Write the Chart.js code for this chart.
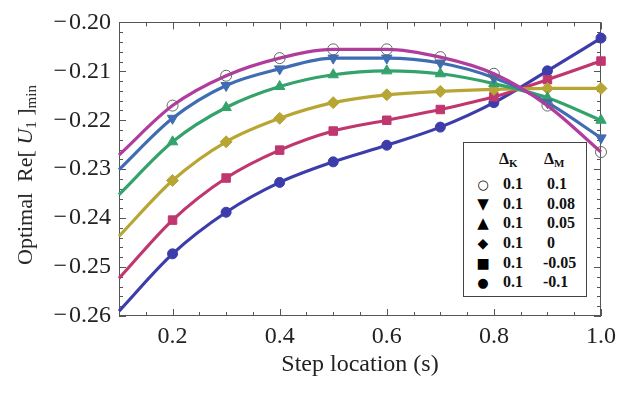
<!DOCTYPE html>
<html><head><meta charset="utf-8">
<script src="https://cdn.jsdelivr.net/npm/chart.js@4"></script>
<style>
html,body{margin:0;padding:0;background:#fff;}
#wrap{position:relative;width:622px;height:395px;overflow:hidden;}
canvas{position:absolute;left:0;top:0;}
#ytitle{position:absolute;left:25px;top:175px;transform:translate(-50%,-50%) rotate(-90deg);font:22px "Liberation Serif";white-space:nowrap;color:#222;}
#ytitle sub{font-size:15px;vertical-align:-4px;line-height:0;}
#legend{position:absolute;left:463px;top:142px;width:122px;height:153px;border:1px solid #444;background:#fff;font:bold 16px "Liberation Serif";color:#111;}
.c{position:absolute;transform:translateY(-50%);white-space:nowrap;line-height:1;}
.m{position:absolute;transform:translate(-50%,-50%);font:14px "DejaVu Sans";line-height:1;color:#000;}
.c sub{font-size:11px;vertical-align:-3px;line-height:0;}
</style></head>
<body><div id="wrap"><canvas id="c" width="622" height="395"></canvas>
<div id="ytitle">Optimal&nbsp; Re[ <i>U</i><sub>1</sub> ]<sub>min</sub></div>
<div id="legend"></div></div>
<script>
const xValues = [0.1,0.2,0.3,0.4,0.5,0.6,0.7,0.8,0.9,1.0];
const seriesM010 = [-0.2271,-0.2170,-0.2109,-0.2073,-0.2055,-0.2055,-0.2071,-0.2105,-0.2170,-0.2265];
const seriesM008 = [-0.2301,-0.2196,-0.2129,-0.2095,-0.2073,-0.2073,-0.2083,-0.2113,-0.2164,-0.2236];
const seriesM005 = [-0.2352,-0.2244,-0.2174,-0.2131,-0.2107,-0.2099,-0.2105,-0.2125,-0.2154,-0.2200];
const seriesM000 = [-0.2437,-0.2323,-0.2244,-0.2196,-0.2164,-0.2148,-0.2141,-0.2137,-0.2135,-0.2135];
const seriesMm005 = [-0.2523,-0.2404,-0.2318,-0.2261,-0.2222,-0.2200,-0.2178,-0.2152,-0.2117,-0.2079];
const seriesMm010 = [-0.2590,-0.2473,-0.2388,-0.2327,-0.2285,-0.2251,-0.2214,-0.2164,-0.2099,-0.2032];
const xTicks = [0.2,0.4,0.6,0.8,1.0];
const yTicks = [-0.26,-0.25,-0.24,-0.23,-0.22,-0.21,-0.20];
const deltaK = ['0.1','0.1','0.1','0.1','0.1','0.1'];
const deltaM = ['0.1','0.08','0.05','0','-0.05','-0.1'];
const legendSymbols = ['○','▼','▲','◆','■','●'];

const allSeries = [seriesM010,seriesM008,seriesM005,seriesM000,seriesMm005,seriesMm010];
const colors = ['#b23c9e','#3f6db3','#33a36b','#b7a634','#c0366f','#3c3cab'];
const styles = [
  {pointStyle:'circle',rot:0,r:5.5,fill:'rgba(255,255,255,0)',border:'#666',bw:1},
  {pointStyle:'triangle',rot:180,r:6,fill:null,border:null,bw:1},
  {pointStyle:'triangle',rot:0,r:6,fill:null,border:null,bw:1},
  {pointStyle:'rectRot',rot:0,r:6,fill:null,border:null,bw:1},
  {pointStyle:'rect',rot:0,r:6,fill:null,border:null,bw:1},
  {pointStyle:'circle',rot:0,r:5,fill:null,border:null,bw:1}
];

const datasets = allSeries.map((s,i)=>({
  label:'ΔM '+deltaM[i],
  data: xValues.map((x,j)=>({x:x,y:s[j]})),
  borderColor: colors[i],
  backgroundColor: colors[i],
  borderWidth: 3.2,
  cubicInterpolationMode:'monotone',
  pointStyle: styles[i].pointStyle,
  pointRotation: styles[i].rot,
  pointRadius: ctx => ctx.dataIndex === 0 ? 0 : styles[i].r,
  pointBackgroundColor: styles[i].fill || colors[i],
  pointBorderColor: styles[i].border || colors[i],
  pointBorderWidth: styles[i].bw,
  clip: false
}));

const xMin = 0.1, xMax = 1.0, yMin = -0.26, yMax = -0.20;
const xMinorStep = 0.05, yMinorStep = 0.002;

const frameTicks = {
  id:'frameTicks',
  beforeDatasetsDraw(chart){
    const {ctx, chartArea:a, scales:{x,y}} = chart;
    ctx.save();
    ctx.strokeStyle = '#555'; ctx.lineWidth = 1;
    ctx.strokeRect(Math.round(a.left)+0.5, Math.round(a.top)+0.5, Math.round(a.right-a.left)-1, Math.round(a.bottom-a.top)-1);
    ctx.beginPath();
    const nx = Math.round((xMax-xMin)/xMinorStep);
    for(let i=0;i<=nx;i++){
      const v = xMin + i*xMinorStep;
      const major = xTicks.some(t=>Math.abs(t-v)<1e-6);
      const L = major?7:4;
      const px = Math.round(x.getPixelForValue(v))+0.5;
      ctx.moveTo(px,a.bottom); ctx.lineTo(px,a.bottom-L);
      ctx.moveTo(px,a.top); ctx.lineTo(px,a.top+L);
    }
    const ny = Math.round((yMax-yMin)/yMinorStep);
    for(let i=0;i<=ny;i++){
      const v = yMin + i*yMinorStep;
      const major = yTicks.some(t=>Math.abs(t-v)<1e-6);
      const L = major?7:4;
      const py = Math.round(y.getPixelForValue(v))+0.5;
      ctx.moveTo(a.left,py); ctx.lineTo(a.left+L,py);
      ctx.moveTo(a.right,py); ctx.lineTo(a.right-L,py);
    }
    ctx.stroke();
    ctx.restore();
  }
};

new Chart(document.getElementById('c'), {
  type:'line',
  data:{datasets},
  options:{
    responsive:false,
    devicePixelRatio:1,
    animation:false,
    layout:{padding:{top:16,right:14,left:0,bottom:0}},
    plugins:{legend:{display:false},tooltip:{enabled:false}},
    scales:{
      x:{
        type:'linear', min:xMin, max:xMax,
        afterBuildTicks: s => { s.ticks = xTicks.map(v=>({value:v})); },
        afterFit: s => { s.height = 79; },
        grid:{display:false, drawTicks:false},
        border:{display:false},
        ticks:{padding:6, color:'#222', font:{family:'Liberation Serif', size:24}, callback:v=>Number(v).toFixed(1), maxRotation:0, autoSkip:false},
        title:{display:true, text:'Step location (s)', color:'#222', font:{family:'Liberation Serif', size:24}, padding:{top:0,bottom:16}}
      },
      y:{
        type:'linear', min:yMin, max:yMax,
        afterBuildTicks: s => { s.ticks = yTicks.map(v=>({value:v})); },
        afterFit: s => { s.width = 119; },
        grid:{display:false, drawTicks:false},
        border:{display:false},
        ticks:{padding:8, color:'#222', font:{family:'Liberation Serif', size:24}, callback:v=>'\u2212\u200A'+Math.abs(v).toFixed(2), autoSkip:false}
      }
    }
  },
  plugins:[frameTicks]
});

// Legend table
const lg = document.getElementById('legend');
let html = '<span class="c" style="left:35px;top:16px">Δ<sub>K</sub></span><span class="c" style="left:80px;top:16px">Δ<sub>M</sub></span>';
const rowY = [41,61,80,100,120,139];
const symSize = ['13px','15px','15px','14px','14px','13px'];
for(let i=0;i<deltaM.length;i++){
  html += '<span class="m" style="left:19px;top:'+rowY[i]+'px;font-size:'+symSize[i]+'">'+legendSymbols[i]+'</span>';
  html += '<span class="c" style="left:39px;top:'+rowY[i]+'px">'+deltaK[i]+'</span>';
  html += '<span class="c" style="left:'+(deltaM[i].startsWith('-')?79:83)+'px;top:'+rowY[i]+'px">'+deltaM[i]+'</span>';
}
lg.innerHTML = html;
</script>
</body></html>
